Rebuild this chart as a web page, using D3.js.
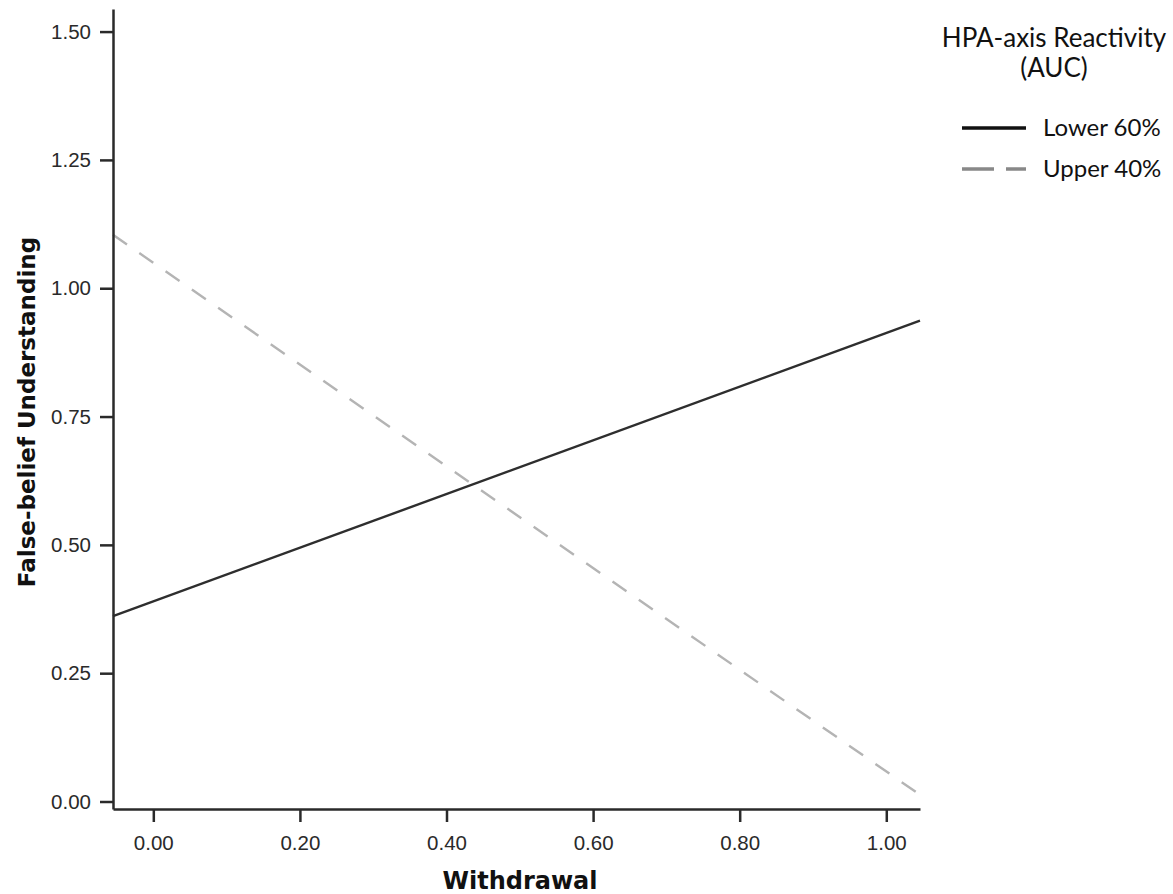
<!DOCTYPE html>
<html>
<head>
<meta charset="utf-8">
<script src="https://cdn.jsdelivr.net/npm/d3@7"></script>
<style>
  html, body { margin: 0; padding: 0; background: #fff; }
  svg { display: block; }
</style>
</head>
<body>
<svg id="chart" width="1173" height="894"></svg>
<script>
// ---- data ----
const withdrawalEnds = [-0.055, 1.046];          // x values at plot edges
const lowerValues = [0.361, 0.937];              // Lower 60% (solid)
const upperValues = [1.104, 0.013];              // Upper 40% (dashed)
const xTicks = [0.00, 0.20, 0.40, 0.60, 0.80, 1.00];
const yTicks = [0.00, 0.25, 0.50, 0.75, 1.00, 1.25, 1.50];
const seriesNames = ["Lower 60%", "Upper 40%"];
const legendTitle = ["HPA-axis Reactivity", "(AUC)"];
const xTitle = "Withdrawal";
const yTitle = "False-belief Understanding";

const svg = d3.select("#chart");

const x = d3.scaleLinear().domain([-0.055, 1.046]).range([113, 920]);
const y = d3.scaleLinear().domain([-0.0146, 1.544]).range([809, 9]);

const tickFont = "'Liberation Sans', Arial, sans-serif";

// lines
const series = [
  { name: seriesNames[0], values: lowerValues, color: "#2e2e2e", dash: null, width: 2.4 },
  { name: seriesNames[1], values: upperValues, color: "#b4b4b4", dash: "17,15", width: 2.4 }
];

const line = d3.line().x(d => x(d[0])).y(d => y(d[1]));

series.forEach(s => {
  svg.append("path")
    .datum(withdrawalEnds.map((w, i) => [w, s.values[i]]))
    .attr("d", line)
    .attr("fill", "none")
    .attr("stroke", s.color)
    .attr("stroke-width", s.width)
    .attr("stroke-dasharray", s.dash);
});

// axes
const xAxis = d3.axisBottom(x).tickValues(xTicks).tickFormat(d3.format(".2f"))
  .tickSize(13).tickPadding(13).tickSizeOuter(0);
const yAxis = d3.axisLeft(y).tickValues(yTicks).tickFormat(d3.format(".2f"))
  .tickSize(13).tickPadding(9).tickSizeOuter(0);

const gx = svg.append("g").attr("transform", "translate(0,809)").call(xAxis);
const gy = svg.append("g").attr("transform", "translate(113,0)").call(yAxis);

[gx, gy].forEach(g => {
  g.select(".domain").attr("stroke", "#2a2a2a").attr("stroke-width", 2.5);
  g.selectAll(".tick line").attr("stroke", "#2a2a2a").attr("stroke-width", 2.5);
  g.selectAll(".tick text")
    .attr("fill", "#2a2a2a")
    .style("font-family", tickFont)
    .style("font-size", "20.5px");
});

// axis titles
svg.append("text")
  .attr("x", 520).attr("y", 889)
  .attr("text-anchor", "middle")
  .style("font-family", "'DejaVu Sans', Verdana, sans-serif")
  .style("font-weight", "bold")
  .style("font-size", "24px")
  .attr("fill", "#111")
  .text(xTitle);

svg.append("text")
  .attr("transform", "translate(35,412) rotate(-90)")
  .attr("text-anchor", "middle")
  .style("font-family", "'DejaVu Sans', Verdana, sans-serif")
  .style("font-weight", "bold")
  .style("font-size", "23px")
  .attr("fill", "#111")
  .text(yTitle);

// legend
const legFont = "Lato, 'Open Sans', sans-serif";
const leg = svg.append("g");
leg.selectAll("text.title").data(legendTitle).join("text")
  .attr("class", "title")
  .attr("x", 1054)
  .attr("y", (d, i) => 47 + i * 30)
  .attr("text-anchor", "middle")
  .style("font-family", legFont)
  .style("font-size", "26px")
  .attr("fill", "#111")
  .text(d => d);

const legItems = leg.selectAll("g.item").data(series).join("g")
  .attr("class", "item")
  .attr("transform", (d, i) => `translate(0,${128 + i * 41})`);

legItems.append("line")
  .attr("x1", 962).attr("x2", 1026).attr("y1", 0).attr("y2", 0)
  .attr("stroke", (d, i) => i === 0 ? "#111" : "#888")
  .attr("stroke-width", 3.5)
  .attr("stroke-dasharray", (d, i) => i === 0 ? null : "32,12");

legItems.append("text")
  .attr("x", 1043).attr("y", 8)
  .style("font-family", legFont)
  .style("font-size", "24px")
  .attr("fill", "#111")
  .text(d => d.name);
</script>
</body>
</html>
